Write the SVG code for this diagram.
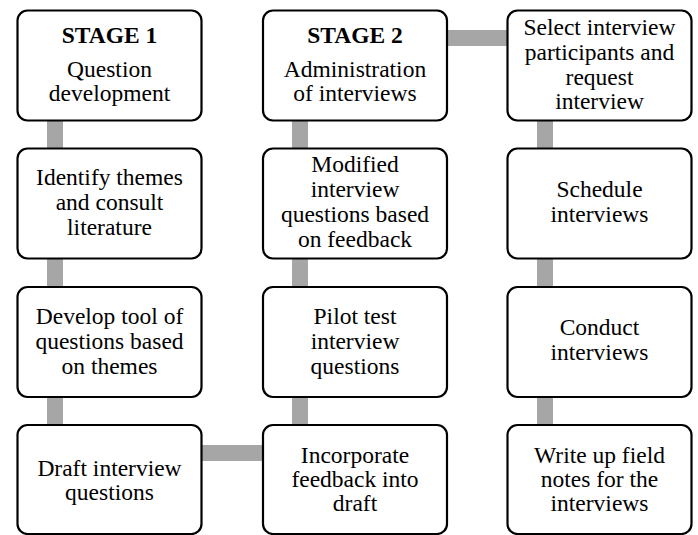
<svg xmlns="http://www.w3.org/2000/svg" width="698" height="535" viewBox="0 0 698 535">
<style>
.box{fill:#fff;stroke:#000;stroke-width:2.2}
.t{font-size:23.5px;fill:#000;text-anchor:middle}
.b{font-weight:bold}
.c{stroke:#A6A6A6;stroke-width:16;fill:none}
</style>
<rect width="698" height="535" fill="#fff"/>
<g id="connectors">
<line class="c" x1="55" y1="121" x2="55" y2="148"/>
<line class="c" x1="55" y1="259" x2="55" y2="287"/>
<line class="c" x1="55" y1="397" x2="55" y2="425"/>
<line class="c" x1="201" y1="453" x2="263" y2="453"/>
<line class="c" x1="300" y1="397" x2="300" y2="425"/>
<line class="c" x1="300" y1="259" x2="300" y2="287"/>
<line class="c" x1="300" y1="121" x2="300" y2="148"/>
<line class="c" x1="447" y1="38" x2="507" y2="38"/>
<line class="c" x1="545" y1="121" x2="545" y2="148"/>
<line class="c" x1="545" y1="259" x2="545" y2="287"/>
<line class="c" x1="545" y1="397" x2="545" y2="425"/>
</g>
<g font-family="'Liberation Serif', Tinos, 'Times New Roman', 'DejaVu Serif', serif">
<g id="n1">
<rect class="box" x="17.5" y="10.5" width="184" height="110" rx="10"/>
<text class="t b" x="109.5" y="43">STAGE 1</text>
<text class="t" x="109.5" y="77">Question</text>
<text class="t" x="109.5" y="101">development</text>
</g>
<g id="n2">
<rect class="box" x="17.5" y="148.5" width="184" height="110" rx="10"/>
<text class="t" x="109.5" y="185">Identify themes</text>
<text class="t" x="109.5" y="210">and consult</text>
<text class="t" x="109.5" y="235">literature</text>
</g>
<g id="n3">
<rect class="box" x="17.5" y="287" width="184" height="110" rx="10"/>
<text class="t" x="109.5" y="324">Develop tool of</text>
<text class="t" x="109.5" y="349">questions based</text>
<text class="t" x="109.5" y="374">on themes</text>
</g>
<g id="n4">
<rect class="box" x="17.5" y="425" width="184" height="109" rx="10"/>
<text class="t" x="109.5" y="476">Draft interview</text>
<text class="t" x="109.5" y="500">questions</text>
</g>
<g id="n5">
<rect class="box" x="263" y="425" width="184" height="109" rx="10"/>
<text class="t" x="355" y="463">Incorporate</text>
<text class="t" x="355" y="487">feedback into</text>
<text class="t" x="355" y="511">draft</text>
</g>
<g id="n6">
<rect class="box" x="263" y="287" width="184" height="110" rx="10"/>
<text class="t" x="355" y="324">Pilot test</text>
<text class="t" x="355" y="349">interview</text>
<text class="t" x="355" y="374">questions</text>
</g>
<g id="n7">
<rect class="box" x="263" y="148.5" width="184" height="110" rx="10"/>
<text class="t" x="355" y="172">Modified</text>
<text class="t" x="355" y="197">interview</text>
<text class="t" x="355" y="222">questions based</text>
<text class="t" x="355" y="247">on feedback</text>
</g>
<g id="n8">
<rect class="box" x="263" y="10.5" width="184" height="110" rx="10"/>
<text class="t b" x="355" y="43">STAGE 2</text>
<text class="t" x="355" y="77">Administration</text>
<text class="t" x="355" y="101">of interviews</text>
</g>
<g id="n9">
<rect class="box" x="507.5" y="10.5" width="184" height="110" rx="10"/>
<text class="t" x="599.5" y="35">Select interview</text>
<text class="t" x="599.5" y="60">participants and</text>
<text class="t" x="599.5" y="85">request</text>
<text class="t" x="599.5" y="109">interview</text>
</g>
<g id="n10">
<rect class="box" x="507.5" y="148.5" width="184" height="110" rx="10"/>
<text class="t" x="599.5" y="197">Schedule</text>
<text class="t" x="599.5" y="222">interviews</text>
</g>
<g id="n11">
<rect class="box" x="507.5" y="287" width="184" height="110" rx="10"/>
<text class="t" x="599.5" y="335">Conduct</text>
<text class="t" x="599.5" y="360">interviews</text>
</g>
<g id="n12">
<rect class="box" x="507.5" y="425" width="184" height="109" rx="10"/>
<text class="t" x="599.5" y="463">Write up field</text>
<text class="t" x="599.5" y="487">notes for the</text>
<text class="t" x="599.5" y="511">interviews</text>
</g>
</g>
</svg>
